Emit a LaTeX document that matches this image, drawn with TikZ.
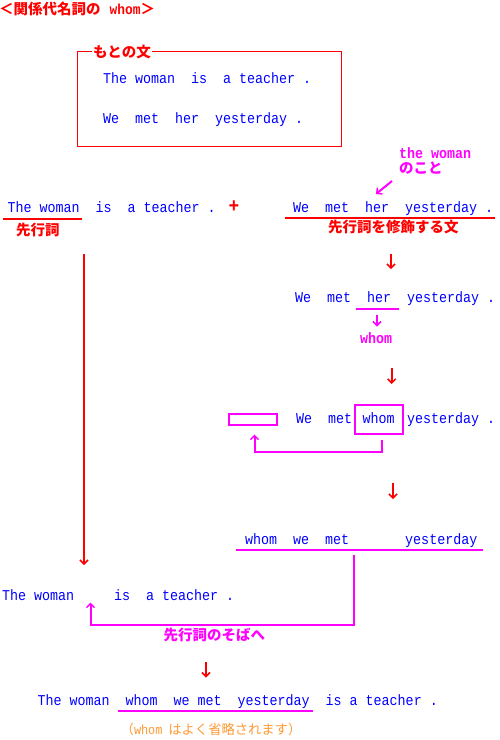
\documentclass[tikz,border=0pt]{standalone}
\usepackage{fontspec}
\usetikzlibrary{arrows.meta}
\newfontfamily\mono[FakeStretch=0.889]{Liberation Mono}
\newfontfamily\jp{Noto Sans CJK JP}
\definecolor{tblue}{RGB}{0,0,255}
\definecolor{tred}{RGB}{255,0,0}
\definecolor{tmag}{RGB}{255,0,255}
\definecolor{torange}{RGB}{255,153,51}
\tikzset{
  en/.style={anchor=base west, inner sep=0pt, text=tblue, font=\mono\fontsize{15}{15}\selectfont},
  enb/.style={anchor=base west, inner sep=0pt, text=tmag, font=\mono\bfseries\fontsize{15}{15}\selectfont},
  jpred/.style={anchor=west, inner sep=0pt, text=tred, font=\jp\bfseries\fontsize{14.5}{14.5}\selectfont},
  jpmag/.style={anchor=west, inner sep=0pt, text=tmag, font=\jp\bfseries\fontsize{14.5}{14.5}\selectfont},
  jporange/.style={anchor=west, inner sep=0pt, text=torange, font=\jp\fontsize{13.3}{13.3}\selectfont},
  redarr/.style={draw=tred, line width=2pt, -{Straight Barb[length=4pt,width=8pt,line width=1.5pt]}},
  magarr/.style={draw=tmag, line width=2pt, -{Straight Barb[length=4pt,width=8pt,line width=1.5pt]}},
  redline/.style={draw=tred, line width=2pt},
  magline/.style={draw=tmag, line width=2pt},
}
\begin{document}
\begin{tikzpicture}[x=1pt,y=-1pt]
\useasboundingbox[fill=white] (0,0) rectangle (500,740);

% title
\node[jpred] (title) at (-1,8.5) {＜関係代名詞の\hspace{9pt}{\mono\bfseries whom}＞};

% original sentences box
\draw[tred, line width=1pt] (77,51.7) rectangle (341,146);
\node[jpred, fill=white, inner xsep=1.5pt] (moto) at (91.5,51.7) {もとの文};
\node[en] (b1) at (103,83) {The~woman~~is~~a~teacher~.};
\node[en] (b2) at (103,123) {We~~met~~her~~yesterday~.};

% row 2
\node[enb] (thew) at (399,158) {the woman};
\node[jpmag] (nokoto) at (399,168) {のこと};
\coordinate (p1s) at (392,181);
\coordinate (p1e) at (376,194);
\draw[magarr] (p1s) -- (p1e);

\node[en] (l2l) at (7.5,212) {The~woman~~is~~a~teacher~.};
\node[anchor=center, inner sep=0pt, text=tred, font=\mono\bfseries\fontsize{20}{20}\selectfont] (plus) at (234,206.5) {+};
\node[en] (l2r) at (293,212) {We~~met~~her~~yesterday~.};
\coordinate (u1a) at (3,219);
\coordinate (u1b) at (82,219);
\draw[redline] (u1a) -- (u1b);
\coordinate (u2a) at (285,218);
\coordinate (u2b) at (495,218);
\draw[redline] (u2a) -- (u2b);
\node[jpred] (senko) at (16,230) {先行詞};
\node[jpred] (shushoku) at (328,227.5) {先行詞を修飾する文};

% long red arrow
\coordinate (la) at (84,254);
\coordinate (lb) at (84,565);
\draw[redarr] (la) -- (lb);

% step arrows
\coordinate (a1s) at (391,254);
\coordinate (a1e) at (391,269);
\draw[redarr] (a1s) -- (a1e);

\node[en] (l3) at (295,302) {We~~met~~her~~yesterday~.};
\coordinate (u3a) at (356,309);
\coordinate (u3b) at (399,309);
\draw[magline] (u3a) -- (u3b);
\coordinate (s1s) at (377,315);
\coordinate (s1e) at (377,326.5);
\draw[magarr] (s1s) -- (s1e);
\node[enb] (whomb) at (360,343) {whom};

\coordinate (a2s) at (391.7,368);
\coordinate (a2e) at (391.7,384);
\draw[redarr] (a2s) -- (a2e);

% line 4
\node[draw=tmag, line width=2pt, minimum width=48pt, minimum height=11pt, inner sep=0pt] (ebox) at (252.5,419) {};
\node[en] (l4a) at (296,423) {We~~met};
\node[en] (l4w) at (362.5,423) {whom};
\draw[tmag, line width=2pt] (355,405) rectangle (402.7,434);
\coordinate (wbox) at (379,434);
\node[en] (l4b) at (407,423) {yesterday~.};
\coordinate (q1) at (382,440);
\coordinate (q2) at (382,452);
\coordinate (q3) at (254.5,452);
\coordinate (q4) at (254.5,434.5);
\draw[magarr] (q1) -- (q2) -- (q3) -- (q4);

\coordinate (a3s) at (393,483);
\coordinate (a3e) at (393,499);
\draw[redarr] (a3s) -- (a3e);

% line 5
\node[en] (l5) at (245,544) {whom~~we~~met~~~~~~~yesterday};
\coordinate (u5a) at (236,549.5);
\coordinate (u5b) at (483,549.5);
\draw[magline] (u5a) -- (u5b);

% line 6
\node[en] (l6) at (2,600) {The~woman~~~~~is~~a~teacher~.};
\coordinate (r1) at (354,555);
\coordinate (r2) at (354,625);
\coordinate (r3) at (90.5,625);
\coordinate (r4) at (90.5,602.5);
\draw[magarr] (r1) -- (r2) -- (r3) -- (r4);
\node[jpmag] (soba) at (163.5,635) {先行詞のそばへ};

\coordinate (a4s) at (206,662);
\coordinate (a4e) at (206,677.5);
\draw[redarr] (a4s) -- (a4e);

% final
\node[en] (l7) at (37.5,705) {The~woman~~whom~~we~met~~yesterday~~is~a~teacher~.};
\coordinate (u7a) at (118,710.5);
\coordinate (u7b) at (313,710.5);
\draw[magline] (u7a) -- (u7b);
\node[jporange] (note) at (120.5,729) {（{\mono whom}\hspace{6pt}はよく省略されます）};
\end{tikzpicture}
\end{document}
